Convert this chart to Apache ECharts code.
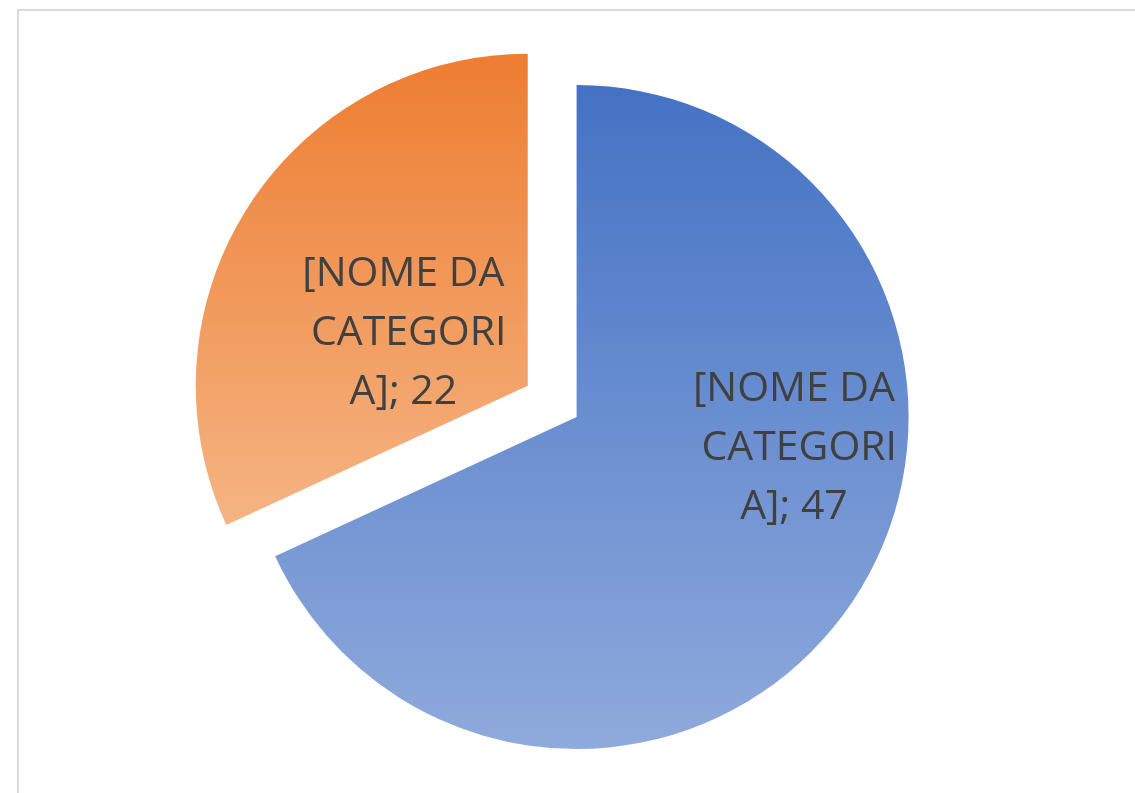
<!DOCTYPE html>
<html>
<head>
<meta charset="utf-8">
<script src="https://cdn.jsdelivr.net/npm/echarts@6/dist/echarts.min.js"></script>
<style>
  html, body {
    margin: 0;
    padding: 0;
    background: #ffffff;
    overflow: hidden;
  }
  .frame {
    position: absolute;
    left: 17px;
    top: 9px;
    width: 1200px;
    height: 900px;
    border: 2px solid #d9d9d9;
    box-sizing: border-box;
  }
  #pie-chart {
    position: absolute;
    left: 0;
    top: 0;
    width: 1135px;
    height: 793px;
  }
</style>
</head>
<body>
<div class="frame"></div>
<div id="pie-chart"></div>
<script>
const categories = ['[NOME DA CATEGORIA]', '[NOME DA CATEGORIA]']
const values = [47, 22]
const topColors = ['#4472C4', '#ED7D31']
const bottomColors = ['#8FAADC', '#F5B483']
const explodeDist = [0, 58]
// nudge labels to where the original sits
const labelShift = [[75, -60], [18, 39]]

const chart = echarts.init(document.getElementById('pie-chart'))
const pieCenter = [576.6, 417]
const total = values.reduce((a, b) => a + b, 0)

const gradient = (i) => new echarts.graphic.LinearGradient(0, 0, 0, 1, [
  {offset: 0, color: topColors[i]},
  {offset: 1, color: bottomColors[i]}
])

// one series per slice, so a slice can be pulled out along its mid angle
const series = values.map((_, k) => {
  const before = values.slice(0, k).reduce((a, b) => a + b, 0)
  const mid = (before + values[k] / 2) / total * Math.PI * 2
  return {
    type: 'pie',
    center: [
      pieCenter[0] + Math.sin(mid) * explodeDist[k],
      pieCenter[1] - Math.cos(mid) * explodeDist[k]
    ],
    radius: 332,
    startAngle: 90,
    clockwise: true,
    silent: true,
    label: {
      show: true,
      position: 'inside',
      formatter: '{b}; {c}',
      fontFamily: 'Open Sans',
      fontSize: 41,
      lineHeight: 59,
      color: '#404040',
      width: 212,
      overflow: 'breakAll',
      align: 'center'
    },
    labelLine: {show: false},
    labelLayout: (params) => ({
      dx: labelShift[params.dataIndex][0],
      dy: labelShift[params.dataIndex][1]
    }),
    emphasis: {disabled: true},
    data: values.map((v, i) => ({
      name: categories[i],
      value: v,
      itemStyle: {
        color: i === k ? gradient(i) : 'rgba(0,0,0,0)',
        borderWidth: 0
      },
      label: {show: i === k}
    }))
  }
})

chart.setOption({
  animation: false,
  series: series
})
</script>
</body>
</html>
